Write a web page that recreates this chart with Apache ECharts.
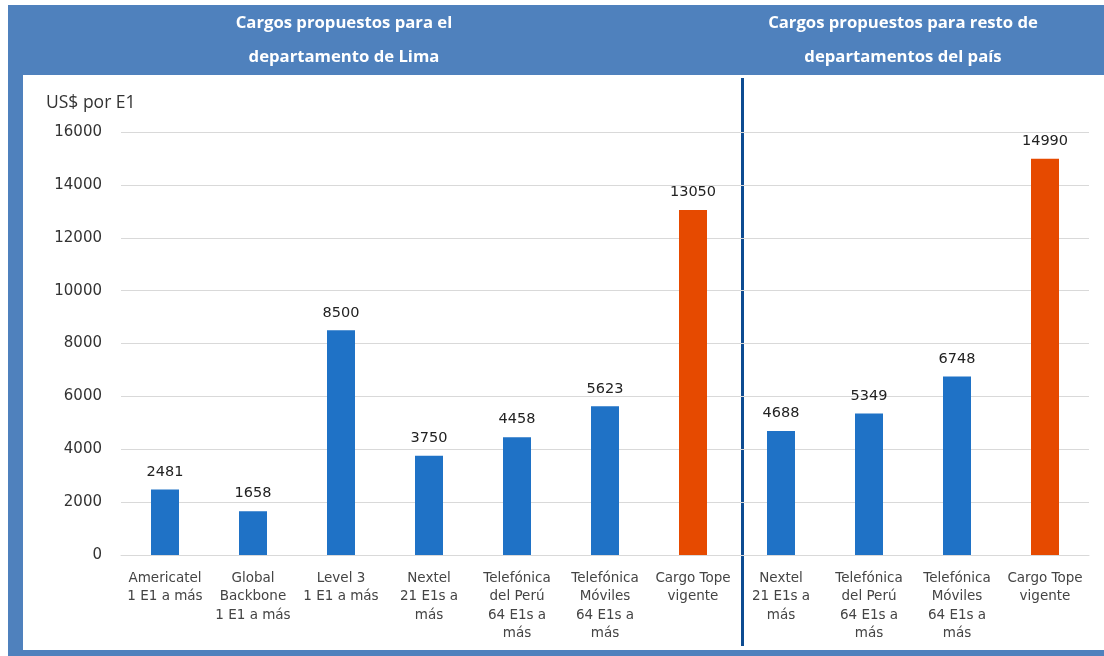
<!DOCTYPE html>
<html><head><meta charset="utf-8">
<script src="https://cdn.jsdelivr.net/npm/echarts@6/dist/echarts.min.js"></script>
<style>html,body{margin:0;padding:0;background:#fff}#c{width:1104px;height:656px}</style>
</head><body><div id="c"></div>
<script>
const categories = [
  "Americatel\n1 E1 a más",
  "Global\nBackbone\n1 E1 a más",
  "Level 3\n1 E1 a más",
  "Nextel\n21 E1s a\nmás",
  "Telefónica\ndel Perú\n64 E1s a\nmás",
  "Telefónica\nMóviles\n64 E1s a\nmás",
  "Cargo Tope\nvigente",
  "Nextel\n21 E1s a\nmás",
  "Telefónica\ndel Perú\n64 E1s a\nmás",
  "Telefónica\nMóviles\n64 E1s a\nmás",
  "Cargo Tope\nvigente"
];
const values = [2481, 1658, 8500, 3750, 4458, 5623, 13050, 4688, 5349, 6748, 14990];
const isTope = [false, false, false, false, false, false, true, false, false, false, true];
const yTicks = { min: 0, max: 16000, interval: 2000 };
const yAxisName = "US$ por E1";
const headerLeft = "Cargos propuestos para el\ndepartamento de Lima";
const headerRight = "Cargos propuestos para resto de\ndepartamentos del país";

const BLUE = "#1F72C6", ORANGE = "#E64A00", BAND = "#4F81BD";
const chart = echarts.init(document.getElementById('c'));
chart.setOption({
  backgroundColor: "#fff",
  animation: false,
  grid: { left: 121, right: 15, top: 132, bottom: 101 },
  xAxis: {
    type: 'category', data: categories,
    axisLine: { lineStyle: { color: "#d9d9d9", width: 1 } },
    axisTick: { show: false },
    axisLabel: { interval: 0, color: "#444", fontSize: 13.5, lineHeight: 18.5, margin: 14, fontFamily: "DejaVu Sans" }
  },
  yAxis: {
    type: 'value', min: yTicks.min, max: yTicks.max, interval: yTicks.interval,
    axisLine: { show: false }, axisTick: { show: false },
    splitLine: { lineStyle: { color: "#d9d9d9" } },
    axisLabel: { color: "#333", fontSize: 15, margin: 19, fontFamily: "DejaVu Sans", formatter: v => String(v) }
  },
  series: [{
    type: 'bar', barWidth: 28,
    data: values.map((v, i) => ({ value: v, itemStyle: { color: isTope[i] ? ORANGE : BLUE } })),
    label: { show: true, position: 'top', distance: 10, color: "#222", fontSize: 14.5, fontFamily: "DejaVu Sans" }
  }],
  graphic: [
    { type: 'rect', shape: { x: 8, y: 5, width: 1096, height: 70 }, style: { fill: BAND }, silent: true },
    { type: 'rect', shape: { x: 8, y: 5, width: 15, height: 651 }, style: { fill: BAND }, silent: true },
    { type: 'rect', shape: { x: 8, y: 650, width: 1096, height: 6 }, style: { fill: BAND }, silent: true },
    { type: 'text', style: { x: 344, y: 6, text: headerLeft, fill: "#fff", font: "bold 16.7px 'Open Sans'", lineHeight: 34, align: 'center', verticalAlign: 'top' } },
    { type: 'text', style: { x: 903, y: 6, text: headerRight, fill: "#fff", font: "bold 16.7px 'Open Sans'", lineHeight: 34, align: 'center', verticalAlign: 'top' } },
    { type: 'text', style: { x: 46, y: 103, text: yAxisName, fill: "#333", font: "17.5px 'Open Sans'", verticalAlign: 'middle' } },
    { type: 'rect', shape: { x: 741, y: 78, width: 3, height: 568 }, style: { fill: "#0D4B91" }, silent: true }
  ]
});
</script></body></html>
